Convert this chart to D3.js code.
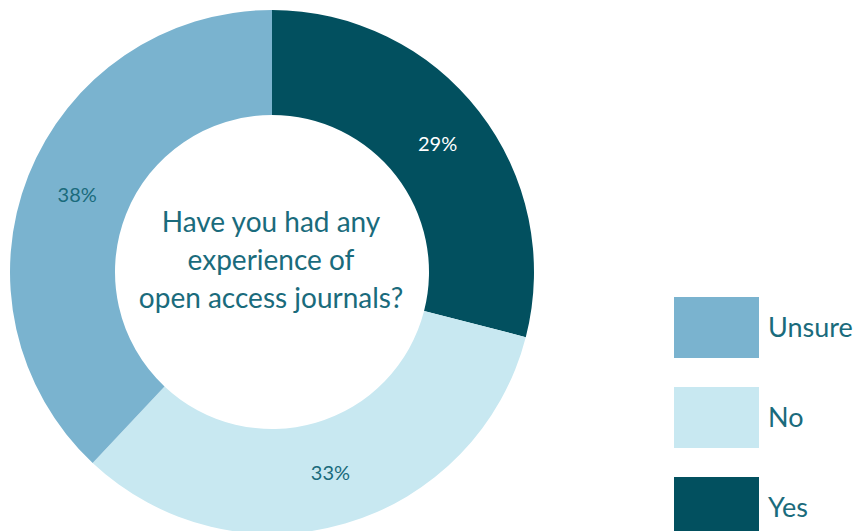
<!DOCTYPE html>
<html>
<head>
<meta charset="utf-8">
<script src="https://cdn.jsdelivr.net/npm/d3@7"></script>
<style>
  body { margin: 0; background: #fff; }
  svg { display: block; font-family: "Lato", "Open Sans", sans-serif; }
</style>
</head>
<body>
<svg width="858" height="531"></svg>
<script>
const categories = ["Yes", "No", "Unsure"];
const values = [29, 33, 38];
const colors = ["#02505f", "#c8e8f1", "#7ab3cf"];
const labelColors = ["#ffffff", "#1a6b7c", "#1a6b7c"];
const legendOrder = ["Unsure", "No", "Yes"];
const question = ["Have you had any", "experience of", "open access journals?"];

const textColor = "#1a6b7c";

main();

function main() {
  const canvas = d3.select("svg");

  const cx = 272;
  const cy = 272;
  const outerRadius = 262;
  const innerRadius = 157;

  const colorScale = d3.scaleOrdinal().domain(categories).range(colors);
  const labelColorScale = d3.scaleOrdinal().domain(categories).range(labelColors);

  const pie = d3.pie().sort(null).value((d) => d.value);
  const arc = d3.arc().innerRadius(innerRadius).outerRadius(outerRadius);

  const data = categories.map((c, i) => ({ name: c, value: values[i] }));
  const arcs = pie(data);

  const chart = canvas.append("g").attr("transform", `translate(${cx}, ${cy})`);

  chart
    .selectAll("path")
    .data(arcs)
    .join("path")
    .attr("d", arc)
    .attr("fill", (d) => colorScale(d.data.name));

  chart
    .selectAll("text.pct")
    .data(arcs)
    .join("text")
    .attr("class", "pct")
    .attr("transform", (d) => `translate(${arc.centroid(d)})`)
    .attr("text-anchor", "middle")
    .attr("dy", "0.35em")
    .attr("font-size", 20)
    .attr("fill", (d) => labelColorScale(d.data.name))
    .text((d) => d.data.value + "%");

  // question in the hole
  const lineHeight = 38;
  chart
    .append("text")
    .attr("text-anchor", "middle")
    .attr("font-size", 28)
    .attr("fill", textColor)
    .selectAll("tspan")
    .data(question)
    .join("tspan")
    .attr("x", -1)
    .attr("y", (d, i) => -40 + i * lineHeight)
    .text((d) => d);

  // legend
  const legendY = d3.scalePoint().domain(legendOrder).range([297, 477]);
  const legend = canvas.append("g");

  const items = legend
    .selectAll("g")
    .data(legendOrder)
    .join("g")
    .attr("transform", (d) => `translate(674, ${legendY(d)})`);

  items
    .append("rect")
    .attr("width", 85)
    .attr("height", 61)
    .attr("fill", (d) => colorScale(d));

  items
    .append("text")
    .attr("x", 94)
    .attr("y", 30.5)
    .attr("dy", "0.35em")
    .attr("font-size", 27)
    .attr("fill", textColor)
    .text((d) => d);
}
</script>
</body>
</html>
